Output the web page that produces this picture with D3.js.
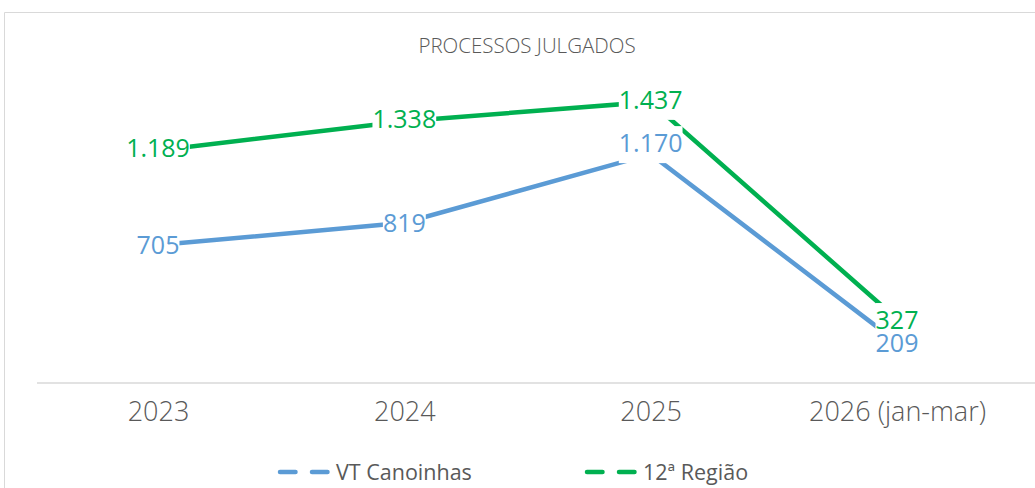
<!DOCTYPE html>
<html>
<head>
<meta charset="utf-8">
<script src="https://cdn.jsdelivr.net/npm/d3@7"></script>
<style>
  body { margin: 0; background: #fff; }
  svg text { font-family: "Open Sans", sans-serif; }
</style>
</head>
<body>
<svg id="chart" width="1035" height="488"></svg>
<script>
// chart data
var categories = ["2023", "2024", "2025", "2026 (jan-mar)"];
var vtCanoinhas = [705, 819, 1170, 209];
var regiao12 = [1189, 1338, 1437, 327];
var seriesNames = ["VT Canoinhas", "12ª Região"];
var chartTitle = "PROCESSOS JULGADOS";

var colors = ["#5b9bd5", "#00b050"];
// small nudges so labels don't collide (like the manual moves in excel)
var labelShift = [[0, 0, -11, 1], [-2, -2, -2, 1]];

var svg = d3.select("#chart");

// outer frame
svg.append("path")
  .attr("d", "M4.5,488 V12.5 H1035")
  .attr("fill", "none")
  .attr("stroke", "#d9d9d9")
  .attr("stroke-width", 1);

svg.append("text")
  .attr("x", 527)
  .attr("y", 53)
  .attr("text-anchor", "middle")
  .attr("font-size", 20.5)
  .attr("font-weight", 300)
  .attr("fill", "#595959")
  .text(chartTitle);

var x = d3.scalePoint()
  .domain(categories)
  .range([158, 897]);

var y = d3.scaleLinear()
  .domain([0, 1600])
  .range([383, 70]);

// axis
var xAxis = svg.append("g")
  .attr("transform", "translate(0,383)")
  .call(d3.axisBottom(x).tickSize(0).tickPadding(12));
xAxis.select(".domain").remove();
xAxis.append("line")
  .attr("x1", 37).attr("x2", 1035)
  .attr("stroke", "#d9d9d9").attr("stroke-width", 1.5);
xAxis.selectAll("text")
  .attr("font-size", 27)
  .attr("font-weight", 300)
  .attr("fill", "#595959")
  .attr("dy", "0.95em");

var line = d3.line()
  .x(function (d, i) { return x(categories[i]); })
  .y(function (d) { return y(d); });

var allSeries = [vtCanoinhas, regiao12];

allSeries.forEach(function (vals, s) {
  svg.append("path")
    .datum(vals)
    .attr("d", line)
    .attr("fill", "none")
    .attr("stroke", colors[s])
    .attr("stroke-width", 4.5)
    .attr("stroke-linecap", "butt");
});

// labels: all white boxes first, then all texts on top
var boxG = svg.append("g");
var textG = svg.append("g");
allSeries.forEach(function (vals, s) {
  vals.forEach(function (v, i) {
    var lx = x(categories[i]);
    var ly = y(v) + labelShift[s][i];
    var t = textG.append("text")
      .attr("x", lx)
      .attr("y", ly)
      .attr("dy", "0.36em")
      .attr("text-anchor", "middle")
      .attr("font-size", 25)
      .attr("fill", colors[s])
      .text(d3.format(",")(v).replace(",", "."));
    var bb = t.node().getBBox();
    boxG.append("rect")
      .attr("x", bb.x)
      .attr("y", ly - 17)
      .attr("width", bb.width)
      .attr("height", 37)
      .attr("fill", "#fff");
  });
});

// legend
var legendX = [278, 585];
seriesNames.forEach(function (name, s) {
  svg.append("line")
    .attr("x1", legendX[s] + 2).attr("x2", legendX[s] + 53)
    .attr("y1", 472).attr("y2", 472)
    .attr("stroke", colors[s])
    .attr("stroke-width", 4.5)
    .attr("stroke-linecap", "round")
    .attr("stroke-dasharray", "15.5,16.5");
  svg.append("text")
    .attr("x", legendX[s] + 58)
    .attr("y", 472)
    .attr("dy", "0.35em")
    .attr("font-size", 21.5)
    .attr("fill", "#595959")
    .text(name);
});
</script>
</body>
</html>
